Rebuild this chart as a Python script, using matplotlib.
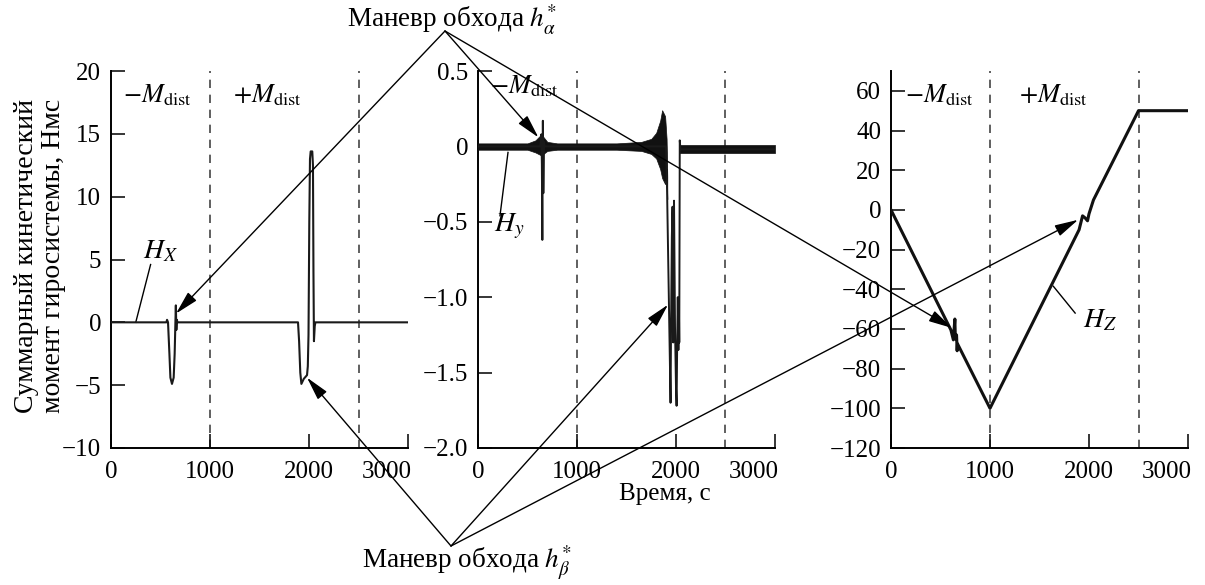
import matplotlib

matplotlib.use("Agg")

import matplotlib.pyplot as plt
from matplotlib.patches import ConnectionPatch
from matplotlib.transforms import ScaledTranslation

# H_X(t), Нмс
HX_T = [0, 560, 566, 576, 590, 600, 616, 633, 643, 650, 655, 660, 665, 672,
        1889, 1900, 1912, 1923, 1947, 1980, 1988, 1995, 2003, 2010, 2017, 2033,
        2040, 2045, 2050, 2058, 2065, 3000]
HX_V = [0, 0, 0.2, 0, -2.5, -4.4, -4.9, -4.4, -2.5, -0.2, 1.35, -0.6, 0.2, 0,
        0, -1.5, -4.0, -4.9, -4.5, -4.2, -3.5, -1.0, 8.0, 13.0, 13.6, 13.6,
        12.5, 4.0, -1.5, -0.3, 0, 0]

# H_Y(t): mean trace with spikes and noise envelopes
HY_T = [0, 630, 640, 645, 650, 655, 660, 667, 672, 1900, 1910, 1920, 1930,
        1940, 1945, 1950, 1958, 1965, 1972, 1980, 1990, 2000, 2006, 2012, 2018,
        2024, 2030, 2033, 2038, 2045, 3000]
HY_V = [0, 0, 0.08, -0.12, -0.62, 0.17, -0.31, 0.03, 0, 0, -0.3, -0.7, -1.1,
        -1.5, -1.70, -1.2, -0.6, -0.4, -1.3, -0.36, -1.2, -1.6, -1.72, -1.3,
        -1.0, -1.35, -1.1, -1.3, 0.04, -0.02, -0.02]
BAND_T = [0, 500, 580, 640, 700, 800, 1000, 1400, 1650, 1750, 1800, 1840,
          1860, 1890, 1905, 1912]
BAND_HI = [0.02, 0.02, 0.04, 0.08, 0.03, 0.02, 0.02, 0.02, 0.03, 0.05, 0.09,
           0.17, 0.24, 0.20, 0.05, -0.2]
BAND_LO = [-0.022, -0.022, -0.04, -0.06, -0.03, -0.022, -0.022, -0.022, -0.03,
           -0.05, -0.08, -0.15, -0.21, -0.25, -0.15, -0.35]
BAND2_T = [2035, 3000]
BAND2_HI = [0.012, 0.012]
BAND2_LO = [-0.045, -0.045]

# H_Z(t), Нмс
HZ_T = [0, 605, 630, 645, 650, 662, 668, 672, 1000, 1900, 1935, 1960, 1985,
        2000, 2045, 2500, 3000]
HZ_V = [0, -60.5, -65.5, -55, -65, -63, -71, -67.5, -100, -10, -3, -4, -5.5,
        -2, 5, 50, 50]

SWITCH_T = [1000, 2500]
X_TICKS = [0, 1000, 2000, 3000]
Y1_TICKS = [-10, -5, 0, 5, 10, 15, 20]
Y2_TICKS = [-2.0, -1.5, -1.0, -0.5, 0, 0.5]
Y2_LABELS = ["\u22122.0", "\u22121.5", "\u22121.0", "\u22120.5", "0", "0.5"]
Y3_TICKS = [-120, -100, -80, -60, -40, -20, 0, 20, 40, 60]

# arrow targets (t, value) for the two manoeuvres
ALPHA_TARGETS = [(657, 0.7), (610, 0.06), (616, -59.5)]
BETA_TARGETS = [(1980, -4.4), (1919, -1.05), (1890, -5.0)]

plt.rcParams.update({
    "font.family": ["Liberation Serif", "DejaVu Serif"],
    "mathtext.fontset": "stix",
    "font.size": 18,
    "axes.linewidth": 1.4,
    "xtick.direction": "in",
    "ytick.direction": "in",
    "xtick.major.size": 10,
    "ytick.major.size": 10,
    "xtick.major.width": 1.1,
    "ytick.major.width": 1.1,
    "xtick.major.pad": 9,
    "ytick.major.pad": 7,
})

W, H = 1205, 585
fig = plt.figure(figsize=(W / 100, H / 100), dpi=100)


def px_axes(left, top, width, height):
    return fig.add_axes([left / W, (H - top - height) / H, width / W, height / H])


ax1 = px_axes(111, 71, 297, 377)
ax2 = px_axes(478, 71, 297, 377)
ax3 = px_axes(891, 71, 297, 377)
axes = [ax1, ax2, ax3]

for ax in axes:
    ax.spines["top"].set_visible(False)
    ax.spines["right"].set_visible(False)
    ax.set_xlim(0, 3000)
    ax.set_xticks(X_TICKS)
    for t in SWITCH_T:
        ax.axvline(t, color="#444444", lw=1.2, ls=(0, (5, 4)), zorder=1)

# panel 1: H_X
ax1.plot(HX_T, HX_V, color="#1a1a1a", lw=1.5, zorder=3)
ax1.set_ylim(-10, 20)
ax1.set_yticks(Y1_TICKS)
ax1.plot([250, 400], [0, 4.6], color="k", lw=1.0)
ax1.text(320, 5.6, "$H_X$", fontsize=20, va="center", ha="left")
ax1.text(0.04, 0.935, r"$-M_{\rm dist}$", transform=ax1.transAxes,
         fontsize=19, va="center", ha="left")
ax1.text(0.41, 0.935, r"$+M_{\rm dist}$", transform=ax1.transAxes,
         fontsize=19, va="center", ha="left")

# panel 2: H_Y
ax2.fill_between(BAND_T, BAND_LO, BAND_HI, color="#111111", lw=0.5, zorder=3)
ax2.fill_between(BAND2_T, BAND2_LO, BAND2_HI, color="#111111", lw=0.5, zorder=3)
ax2.plot(HY_T, HY_V, color="#1a1a1a", lw=1.4, zorder=3)
ax2.set_ylim(-2.0, 0.5)
ax2.set_yticks(Y2_TICKS)
ax2.set_yticklabels(Y2_LABELS)
ax2.plot([303, 222], [-0.04, -0.46], color="k", lw=1.0)
ax2.text(165, -0.53, "$H_y$", fontsize=20, va="center", ha="left")
ax2.text(0.04, 0.96, r"$-M_{\rm dist}$", transform=ax2.transAxes,
         fontsize=19, va="center", ha="left")
ax2.set_xlabel("Время, с", fontsize=18, labelpad=0)
ax2.xaxis.set_label_coords(1890 / 3000, -0.094)

# panel 3: H_Z
ax3.plot(HZ_T, HZ_V, color="#111111", lw=2.2, zorder=3)
ax3.set_ylim(-120, 70)
ax3.set_yticks(Y3_TICKS)
ax3.plot([1640, 1860], [-38.5, -52], color="k", lw=1.0)
ax3.text(1940, -56, "$H_Z$", fontsize=20, va="center", ha="left")
ax3.text(0.047, 0.935, r"$-M_{\rm dist}$", transform=ax3.transAxes,
         fontsize=19, va="center", ha="left")
ax3.text(0.43, 0.935, r"$+M_{\rm dist}$", transform=ax3.transAxes,
         fontsize=19, va="center", ha="left")

# the last x label sits flush with the end of each axis
for ax in axes:
    last = ax.get_xticklabels()[-1]
    last.set_horizontalalignment("right")
    last.set_transform(last.get_transform()
                       + ScaledTranslation(0.04, 0, fig.dpi_scale_trans))

fig.text(40 / W, 1 - 256 / H, "Суммарный кинетический\nмомент гиросистемы, Нмс",
         rotation=90, ha="center", va="center", multialignment="center",
         fontsize=20, linespacing=1.15)

# manoeuvre labels with arrows fanning out to all three panels
fig.text(452 / W, 1 - 20 / H, r"Маневр обхода $h^{*}_{\alpha}$",
         ha="center", va="center", fontsize=19.5)
fig.text(467 / W, 1 - 562 / H, r"Маневр обхода $h^{*}_{\beta}$",
         ha="center", va="center", fontsize=19.5)

apex_alpha = (445, H - 31)
apex_beta = (451, H - 546)
for apex, targets in ((apex_alpha, ALPHA_TARGETS), (apex_beta, BETA_TARGETS)):
    for ax, (t, v) in zip(axes, targets):
        con = ConnectionPatch(
            xyA=apex, coordsA="figure pixels",
            xyB=(t, v), coordsB=ax.transData,
            arrowstyle="-|>,head_length=1.2,head_width=0.3",
            mutation_scale=12, shrinkA=0, shrinkB=0,
            color="k", lw=1.0, zorder=5,
        )
        fig.add_artist(con)

fig.savefig("out.png", dpi=100)
